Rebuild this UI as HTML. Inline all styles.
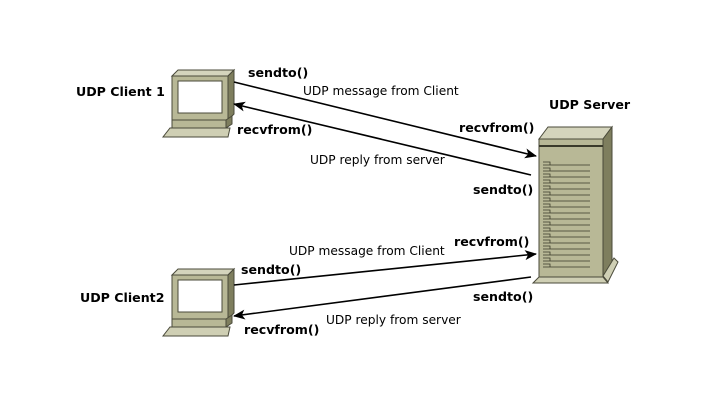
<!DOCTYPE html>
<html><head><style>body{margin:0;background:#fff}svg{display:block}</style></head><body>
<svg width="713" height="415" viewBox="0 0 713 415" xmlns="http://www.w3.org/2000/svg" font-family="DejaVu Sans, Liberation Sans, sans-serif">
<defs>
<marker id="ah" markerWidth="12" markerHeight="10" refX="11" refY="5" orient="auto" markerUnits="userSpaceOnUse">
<path d="M0,0 L12,5 L0,10 L3,5 Z" fill="#000"/></marker>
<g id="pc" stroke="#4a4a3a" stroke-width="1">
<path d="M172,76 L178,70 L234,70 L228,76 Z" fill="#d4d4bc"/>
<path d="M228,76 L234,70 L234,114 L228,120 Z" fill="#7e7e5e"/>
<rect x="172" y="76" width="56" height="44" fill="#b8b896"/>
<rect x="178" y="81" width="44" height="32" fill="#fff"/>
<rect x="172" y="120" width="54" height="8" fill="#b8b896"/>
<path d="M226,120 L232,116 L232,124 L226,128 Z" fill="#7e7e5e"/>
<path d="M170,128 L230,128 L228,137 L163,137 Z" fill="#cfcfb4"/>
</g>
</defs>
<use href="#pc"/>
<use href="#pc" transform="translate(0,199)"/>
<g stroke="#4a4a3a" stroke-width="1">
<path d="M539,139 L548,127 L612,127 L603,139 Z" fill="#d4d4bc"/>
<path d="M603,139 L612,127 L612,262 L603,276 Z" fill="#7e7e5e"/>
<rect x="539" y="139" width="64" height="138" fill="#b8b896"/>
<line x1="539" y1="146" x2="603" y2="146" stroke="#3a3a2a" stroke-width="2"/>
<path d="M603,276 L614,258 L618,262 L608,282 Z" fill="#cfcfb4"/>
<path d="M539,277 L603,277 L608,283 L533,283 Z" fill="#cfcfb4"/>
</g>
<g stroke="#3a3a2a" stroke-width="0.8" fill="none">
<path d="M543,162h7v3h-7M543,165h47"/><path d="M543,168h7v3h-7M543,171h47"/>
<path d="M543,174h7v3h-7M543,177h47"/><path d="M543,180h7v3h-7M543,183h47"/>
<path d="M543,186h7v3h-7M543,189h47"/><path d="M543,192h7v3h-7M543,195h47"/>
<path d="M543,198h7v3h-7M543,201h47"/><path d="M543,204h7v3h-7M543,207h47"/>
<path d="M543,210h7v3h-7M543,213h47"/><path d="M543,216h7v3h-7M543,219h47"/>
<path d="M543,222h7v3h-7M543,225h47"/><path d="M543,228h7v3h-7M543,231h47"/>
<path d="M543,234h7v3h-7M543,237h47"/><path d="M543,240h7v3h-7M543,243h47"/>
<path d="M543,246h7v3h-7M543,249h47"/><path d="M543,252h7v3h-7M543,255h47"/>
<path d="M543,258h7v3h-7M543,261h47"/><path d="M543,264h7v3h-7M543,267h47"/>
</g>
<g stroke="#000" stroke-width="1.6" marker-end="url(#ah)">
<line x1="234" y1="82" x2="536" y2="156"/>
<line x1="531" y1="175" x2="234" y2="104"/>
<line x1="234" y1="285" x2="536" y2="254"/>
<line x1="531" y1="277" x2="234" y2="316"/>
</g>
<g font-size="12.6" font-weight="bold" fill="#000">
<text x="76" y="96">UDP Client 1</text>
<text x="549" y="109">UDP Server</text>
<text x="80" y="302">UDP Client2</text>
<text x="248" y="77">sendto()</text>
<text x="459" y="132">recvfrom()</text>
<text x="237" y="134">recvfrom()</text>
<text x="473" y="194">sendto()</text>
<text x="241" y="274">sendto()</text>
<text x="454" y="246">recvfrom()</text>
<text x="473" y="301">sendto()</text>
<text x="244" y="334">recvfrom()</text>
</g>
<g font-size="12.2" fill="#000">
<text x="303" y="95">UDP message from Client</text>
<text x="310" y="164">UDP reply from server</text>
<text x="289" y="255">UDP message from Client</text>
<text x="326" y="324">UDP reply from server</text>
</g>
</svg>
</body></html>
